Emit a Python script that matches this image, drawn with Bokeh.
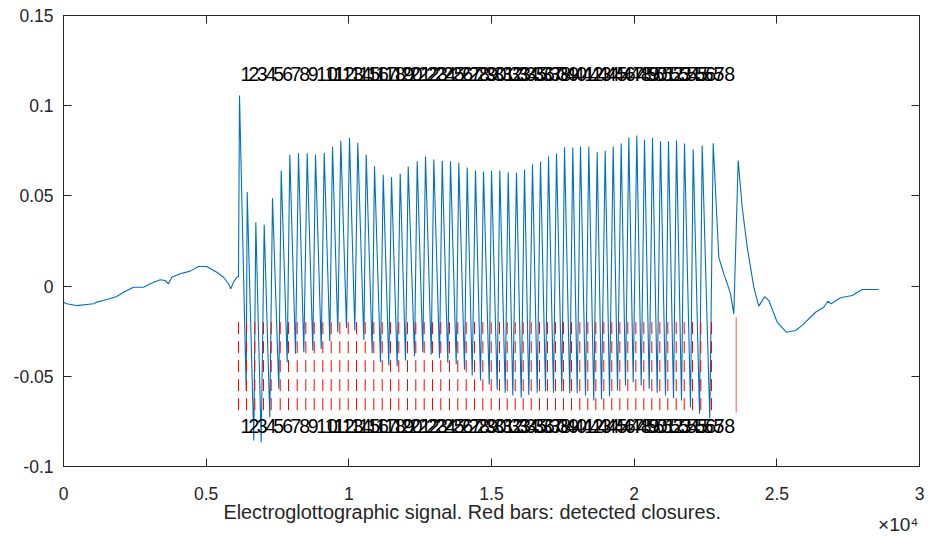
from bokeh.plotting import figure
from bokeh.models import (FixedTicker, LinearAxis, Range1d, Title,
                          ColumnDataSource, CustomJSTickFormatter)
from bokeh.core.properties import value
from bokeh.embed import file_html
from bokeh.resources import INLINE

# ---------------- data (samples / EGG amplitude) ----------------
# signal before phonation onset
onset_x = [0, 116, 466, 1051, 1167, 1518, 1868, 2103, 2453, 2804, 3039, 3389,
           3564, 3680, 3796, 4090, 4440, 4731, 5022, 5373, 5608, 5783, 5863,
           5958, 6074, 6133]
onset_y = [-0.0089, -0.0098, -0.0108, -0.0098, -0.0089, -0.0074, -0.0058,
           -0.0034, -0.0006, -0.0006, 0.0013, 0.0035, 0.0031, 0.0013, 0.0049,
           0.0068, 0.0083, 0.0109, 0.0109, 0.0077, 0.0049, 0.0013, -0.0015,
           0.0022, 0.0049, 0.0053]

# detected glottal closures (red bars), in samples
gci_x = [6133, 6414, 6705, 7009, 7279, 7595, 7886, 8191, 8492, 8786, 9088,
         9382, 9684, 9978, 10269, 10574, 10875, 11170, 11460, 11751, 12056,
         12347, 12641, 12932, 13223, 13528, 13819, 14113, 14404, 14695, 14990,
         15280, 15550, 15831, 16111, 16391, 16682, 16963, 17243, 17524, 17804,
         18095, 18375, 18656, 18936, 19216, 19497, 19777, 20058, 20338, 20618,
         20899, 21179, 21473, 21754, 22044, 22336, 22710]
last_gci_x = [23576]

# cycle peaks
peak_x = [6168, 6438, 6740, 7034, 7325, 7630, 7931, 8236, 8541, 8832, 9137,
          9428, 9719, 10023, 10314, 10609, 10900, 11205, 11495, 11800, 12081,
          12396, 12687, 12978, 13272, 13563, 13854, 14148, 14439, 14720, 15000,
          15291, 15585, 15876, 16157, 16437, 16717, 16998, 17278, 17559, 17849,
          18119, 18410, 18704, 18985, 19265, 19546, 19812, 20093, 20362, 20643,
          20923, 21203, 21484, 21764, 22069, 22384, 22770, 23646]
peak_y = [0.1057, 0.0521, 0.0354, 0.0340, 0.0487, 0.0641, 0.0728, 0.0737,
          0.0737, 0.0729, 0.0739, 0.0772, 0.0805, 0.0822, 0.0794, 0.0728,
          0.0665, 0.0617, 0.0604, 0.0623, 0.0663, 0.0692, 0.0718, 0.0702,
          0.0695, 0.0692, 0.0683, 0.0657, 0.0641, 0.0635, 0.0639, 0.0641,
          0.0631, 0.0628, 0.0646, 0.0676, 0.0691, 0.0718, 0.0735, 0.0770,
          0.0768, 0.0774, 0.0772, 0.0742, 0.0750, 0.0774, 0.0790, 0.0824,
          0.0835, 0.0811, 0.0822, 0.0803, 0.0803, 0.0807, 0.0790, 0.0757,
          0.0779, 0.0792, 0.0696]

# cycle troughs (between consecutive peaks)
trough_x = [6403, 6670, 6929, 7230, 7546, 7840, 8131, 8422, 8737, 9032, 9333,
            9613, 9918, 10209, 10525, 10819, 11110, 11401, 11695, 11986, 12301,
            12592, 12887, 13178, 13469, 13763, 14054, 14324, 14615, 14920,
            15200, 15480, 15747, 16041, 16307, 16602, 16893, 17173, 17464,
            17744, 18004, 18295, 18585, 18855, 19136, 19416, 19696, 19966,
            20247, 20527, 20807, 21098, 21379, 21659, 21974, 22290, 22651]
trough_y = [-0.0579, -0.0856, -0.0865, -0.0727, -0.0569, -0.0422, -0.0375,
            -0.0366, -0.0357, -0.0348, -0.0305, -0.0256, -0.0233, -0.0246,
            -0.0298, -0.0372, -0.0422, -0.0440, -0.0444, -0.0412, -0.0389,
            -0.0366, -0.0381, -0.0400, -0.0425, -0.0433, -0.0464, -0.0496,
            -0.0523, -0.0545, -0.0575, -0.0591, -0.0606, -0.0619, -0.0603,
            -0.0591, -0.0584, -0.0591, -0.0584, -0.0594, -0.0593, -0.0606,
            -0.0634, -0.0628, -0.0610, -0.0579, -0.0551, -0.0533, -0.0551,
            -0.0569, -0.0591, -0.0606, -0.0621, -0.0634, -0.0671, -0.0708,
            -0.0734]

# slow release before the last pulse
release_x = [22966, 23141, 23271, 23376, 23492]
release_y = [0.0160, 0.0068, 0.0010, -0.0043, -0.0154]

# signal after the last pulse
offset_x = [23786, 23962, 24193, 24368, 24579, 24719, 25013, 25339, 25654,
            25889, 26355, 26646, 26787, 26905, 27232, 27641, 27992, 28574]
offset_y = [0.0437, 0.0216, -0.0006, -0.0111, -0.0058, -0.0080, -0.0200,
            -0.0256, -0.0246, -0.0218, -0.0145, -0.0117, -0.0084, -0.0098,
            -0.0065, -0.0052, -0.0019, -0.0019]

bar_top, bar_bottom = -0.02, -0.07
last_bar_top = -0.0173

xticks = [0, 5000, 10000, 15000, 20000, 25000, 30000]
xtick_labels = ["0", "0.5", "1", "1.5", "2", "2.5", "3"]
yticks = [-0.1, -0.05, 0, 0.05, 0.1, 0.15]
ytick_labels = ["-0.1", "-0.05", "0", "0.05", "0.1", "0.15"]
x_exponent = "×10\u2074"
x_title = "Electroglottographic signal. Red bars: detected closures."

# ---------------- assemble the traced signal ----------------
sig_x = list(onset_x)
sig_y = list(onset_y)
for i in range(len(trough_x)):
    sig_x += [peak_x[i], trough_x[i]]
    sig_y += [peak_y[i], trough_y[i]]
sig_x += [peak_x[len(trough_x)]] + release_x + [peak_x[-1]] + offset_x
sig_y += [peak_y[len(trough_x)]] + release_y + [peak_y[-1]] + offset_y

FONT = "Liberation Sans"
AX = "#262626"
NBSP = "\u00a0"

p = figure(width=931, height=536, output_backend="svg", toolbar_location=None,
           x_range=Range1d(0, 30000), y_range=Range1d(-0.1, 0.15),
           min_border_left=63, min_border_right=12, min_border_top=15,
           min_border_bottom=70, background_fill_color="white",
           border_fill_color="white")
p.xgrid.visible = False
p.ygrid.visible = False
p.outline_line_color = AX
p.outline_line_width = 1

p.line(sig_x, sig_y, line_color="#0072BD", line_width=1.1)

src = ColumnDataSource(dict(x=gci_x, y0=[bar_top] * len(gci_x),
                            y1=[bar_bottom] * len(gci_x),
                            lab=[str(i + 1) for i in range(len(gci_x))]))
p.segment(x0="x", y0="y0", x1="x", y1="y1", source=src, line_color="#FF0000",
          line_width=1, line_dash="12 7")
p.segment(x0=last_gci_x, y0=[last_bar_top], x1=last_gci_x, y1=[bar_bottom],
          line_color="#FF0000", line_alpha=0.55, line_width=1.2)

for yy in (0.1175, -0.0775):
    p.text(x="x", y=yy, text="lab", source=src, text_font=value(FONT),
           text_font_size="19.5px", text_color="black", text_align="left",
           text_baseline="middle", x_offset=2)

def fmt(vals, labs):
    return CustomJSTickFormatter(args=dict(vals=vals, labs=labs), code="""
        const i = vals.findIndex(v => Math.abs(v - tick) < 1e-9);
        return i >= 0 ? labs[i] : '';""")

xa = p.xaxis[0]
xa.ticker = FixedTicker(ticks=xticks)
xa.formatter = fmt(xticks, xtick_labels)
ya = p.yaxis[0]
ya.ticker = FixedTicker(ticks=yticks)
ya.formatter = fmt(yticks, ytick_labels)
for ax in (xa, ya):
    ax.major_tick_in = 8
    ax.major_tick_out = 0
    ax.minor_tick_in = 0
    ax.minor_tick_out = 0
    ax.axis_line_color = AX
    ax.major_tick_line_color = AX
    ax.major_label_text_font = FONT
    ax.major_label_text_font_size = "17.5px"
    ax.major_label_text_color = AX
xa.major_label_standoff = 20
ya.major_label_standoff = 10
# trailing no-break spaces shift the centred title a little to the left
xa.axis_label = x_title + NBSP * 7
xa.axis_label_text_font = FONT
xa.axis_label_text_font_size = "19.9px"
xa.axis_label_text_font_style = "normal"
xa.axis_label_text_color = AX
xa.axis_label_standoff = -2

blank = CustomJSTickFormatter(code="return '';")
for loc, ticks in (("right", yticks), ("above", xticks)):
    ax = LinearAxis(ticker=FixedTicker(ticks=ticks), formatter=blank,
                    major_tick_in=8, major_tick_out=0, minor_tick_in=0,
                    minor_tick_out=0, major_label_standoff=0,
                    major_label_text_font_size="1px", axis_line_color=AX,
                    major_tick_line_color=AX)
    p.add_layout(ax, loc)

# exponent of the x axis: a right-aligned title under the axis, pulled up
p.add_layout(Title(text=x_exponent, align="right", offset=1,
                   vertical_align="top", standoff=-23, text_font=FONT,
                   text_font_size="19px", text_font_style="normal",
                   text_color=AX), "below")

open("out.html", "w").write(file_html(p, INLINE))
